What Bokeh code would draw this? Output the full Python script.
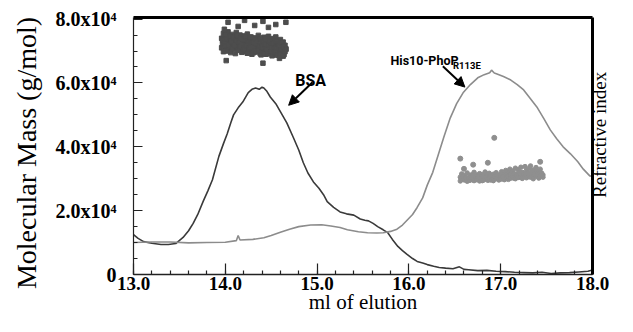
import math
from bokeh.plotting import figure
from bokeh.models import (Range1d, SingleIntervalTicker, FixedTicker, LinearAxis, Label,
                          Arrow, NormalHead, PrintfTickFormatter)
from bokeh.embed import file_html
from bokeh.resources import INLINE

# ---------------- data (mass axis units: x1e4 g/mol) ----------------
bsa_ri_x = [13.00, 13.05, 13.11, 13.20, 13.30, 13.38, 13.46, 13.54, 13.60, 13.65, 13.70, 13.76,
            13.81, 13.86, 13.93, 13.98, 14.02, 14.06, 14.09, 14.14, 14.19, 14.25, 14.29, 14.33,
            14.37, 14.40, 14.42, 14.45, 14.49, 14.55, 14.60, 14.67, 14.74, 14.80, 14.85, 14.90,
            14.96, 15.02, 15.07, 15.11, 15.18, 15.25, 15.32, 15.40, 15.47, 15.52, 15.56, 15.61,
            15.66, 15.72, 15.77, 15.82, 15.88, 15.93, 15.98, 16.04, 16.09, 16.15, 16.20, 16.27,
            16.33, 16.40, 16.48, 16.55, 16.60, 16.65, 16.75, 16.85, 16.95, 17.05, 17.15, 17.25,
            17.35, 17.45, 17.55, 17.65, 17.75, 17.85, 17.95, 18.00]
bsa_ri_y = [1.25, 1.13, 1.03, 0.98, 0.94, 0.94, 0.97, 1.16, 1.37, 1.60, 1.88, 2.30,
            2.62, 2.97, 3.70, 4.10, 4.40, 4.75, 5.00, 5.22, 5.40, 5.70, 5.80, 5.84,
            5.80, 5.87, 5.84, 5.75, 5.56, 5.35, 5.10, 4.75, 4.30, 3.90, 3.50, 3.18,
            2.90, 2.70, 2.50, 2.28, 2.10, 1.96, 1.90, 1.86, 1.74, 1.70, 1.68, 1.60,
            1.50, 1.40, 1.31, 1.10, 0.88, 0.75, 0.63, 0.50, 0.41, 0.36, 0.31, 0.26,
            0.22, 0.20, 0.18, 0.24, 0.16, 0.15, 0.12, 0.13, 0.10, 0.09, 0.07, 0.06,
            0.05, 0.07, 0.03, 0.05, 0.06, 0.08, 0.10, 0.14]

his_ri_x = [13.00, 13.20, 13.40, 13.60, 13.80, 14.00, 14.12, 14.14, 14.16, 14.30, 14.42, 14.50,
            14.60, 14.70, 14.80, 14.93, 15.05, 15.15, 15.25, 15.33, 15.45, 15.55, 15.65, 15.72,
            15.80, 15.87, 15.93, 15.98, 16.04, 16.09, 16.15, 16.20, 16.26, 16.32, 16.38, 16.45,
            16.52, 16.59, 16.67, 16.75, 16.82, 16.88, 16.90, 16.93, 16.96, 17.03, 17.11, 17.18,
            17.25, 17.32, 17.40, 17.47, 17.54, 17.61, 17.68, 17.76, 17.84, 17.90, 17.97, 18.00]
his_ri_y = [1.00, 1.02, 1.02, 0.99, 1.00, 1.01, 1.06, 1.22, 1.08, 1.10, 1.15, 1.22,
            1.32, 1.42, 1.50, 1.55, 1.56, 1.52, 1.47, 1.40, 1.34, 1.31, 1.30, 1.31,
            1.35, 1.42, 1.55, 1.70, 1.88, 2.10, 2.40, 2.80, 3.20, 3.75, 4.30, 4.90,
            5.35, 5.69, 5.95, 6.16, 6.26, 6.32, 6.40, 6.31, 6.28, 6.20, 6.09, 5.95,
            5.78, 5.52, 5.22, 4.88, 4.53, 4.25, 4.00, 3.78, 3.53, 3.30, 3.09, 3.08]

bsa_mw_x = [13.96, 13.97, 13.98, 13.99,
            14.00, 14.01, 14.02, 14.03, 14.04, 14.05, 14.06, 14.07, 14.08, 14.09,
            14.10, 14.11, 14.12, 14.13, 14.14, 14.15, 14.16, 14.17, 14.18, 14.19,
            14.20, 14.21, 14.22, 14.23, 14.24, 14.25, 14.26, 14.27, 14.28, 14.29,
            14.30, 14.31, 14.32, 14.33, 14.34, 14.35, 14.36, 14.37, 14.38, 14.39,
            14.40, 14.41, 14.42, 14.43, 14.44, 14.45, 14.46, 14.47, 14.48, 14.49,
            14.50, 14.51, 14.52, 14.53, 14.54, 14.55, 14.56, 14.57, 14.58, 14.59,
            14.60, 14.61, 14.62, 14.63, 14.64, 14.65, 14.66]
bsa_mw_a = [7.40, 7.22, 7.55, 7.05, 7.33, 7.48, 7.12, 7.60, 7.28, 7.02,
            7.45, 7.18, 7.52, 7.08, 7.36, 7.25, 7.58, 7.10, 7.42, 7.20,
            7.50, 7.04, 7.30, 7.47, 7.15, 7.38, 6.98, 7.26, 7.53, 7.11,
            7.35, 7.00, 7.44, 7.19, 7.29, 6.95, 7.41, 7.14, 7.32, 7.06,
            7.49, 7.17, 6.92, 7.37, 7.23, 7.03, 7.43, 7.13, 6.90, 7.34,
            7.21, 7.46, 6.97, 7.27, 7.09, 7.39, 6.88, 7.24, 7.16, 7.44,
            6.94, 7.31, 7.07, 6.86, 7.36, 7.12, 7.01, 7.28, 6.89, 7.18, 7.05]
bsa_mw_b = [7.10, 7.35, 6.98, 7.25, 7.50, 7.15, 7.38, 7.00, 7.20, 7.45,
            6.95, 7.30, 7.08, 7.42, 7.18, 6.92, 7.33, 7.48, 7.02, 7.27,
            7.14, 7.40, 6.96, 7.22, 7.36, 7.05, 7.46, 7.17, 6.93, 7.31,
            7.09, 7.43, 7.20, 6.90, 7.26, 7.12, 7.39, 6.97, 7.24, 7.34,
            7.01, 7.16, 7.37, 6.88, 7.11, 7.29, 6.94, 7.21, 7.40, 7.06,
            6.91, 7.19, 7.32, 6.99, 7.13, 6.85, 7.23, 7.08, 6.96, 7.30,
            7.10, 6.87, 7.22, 7.15, 6.93, 7.03, 7.26, 6.84, 7.14, 6.98, 7.07]
bsa_out_x = [14.01, 14.03, 14.14, 14.21, 14.32, 14.41, 14.47, 14.55, 14.59, 14.66, 14.41, 13.99]
bsa_out_y = [6.70, 7.90, 7.77, 7.96, 7.80, 7.93, 7.74, 7.83, 6.77, 7.90, 6.62, 7.68]

his_mw_x = [16.56, 16.575, 16.59, 16.605, 16.62, 16.635, 16.65, 16.665, 16.68, 16.695,
            16.71, 16.725, 16.74, 16.755, 16.77, 16.785, 16.80, 16.815, 16.83, 16.845,
            16.86, 16.875, 16.89, 16.905, 16.92, 16.935, 16.95, 16.965, 16.98, 16.995,
            17.01, 17.025, 17.04, 17.055, 17.07, 17.085, 17.10, 17.115, 17.13, 17.145,
            17.16, 17.175, 17.19, 17.205, 17.22, 17.235, 17.25, 17.265, 17.28, 17.295,
            17.31, 17.325, 17.34, 17.355, 17.37, 17.385, 17.40, 17.415, 17.43, 17.445, 17.46]
his_mw_a = [3.05, 3.15, 2.98, 3.10, 3.02, 3.18, 2.95, 3.08, 3.12, 2.97,
            3.20, 3.04, 3.11, 2.99, 3.16, 3.06, 2.94, 3.13, 3.21, 3.00,
            3.09, 3.17, 2.96, 3.07, 3.14, 3.01, 3.19, 3.05, 2.98, 3.12,
            3.22, 3.03, 3.15, 3.26, 3.00, 3.18, 3.30, 3.08, 3.24, 3.02,
            3.33, 3.14, 3.28, 3.05, 3.36, 3.20, 3.10, 3.38, 3.25, 3.06,
            3.32, 3.40, 3.15, 3.27, 3.09, 3.35, 3.22, 3.04, 3.30, 3.18, 3.12]
his_mw_b = [2.93, 3.00, 3.07, 2.96, 3.03, 2.92, 3.01, 2.95, 3.04, 3.09,
            2.94, 3.00, 2.97, 3.06, 2.93, 3.02, 3.08, 2.96, 3.01, 3.05,
            2.95, 3.03, 3.10, 2.98, 2.94, 3.06, 3.00, 3.12, 2.96, 3.04,
            2.99, 3.07, 2.97, 3.11, 3.05, 2.98, 3.13, 3.02, 3.08, 3.16,
            3.00, 3.10, 3.04, 3.20, 3.06, 3.01, 3.14, 3.08, 3.03, 3.18,
            3.11, 3.05, 3.22, 3.00, 3.16, 3.09, 3.13, 3.02, 3.07, 3.10, 3.05]
his_out_x = [16.56, 16.60, 16.70, 16.86, 16.93, 17.43]
his_out_y = [3.63, 3.31, 3.44, 3.50, 4.28, 3.53]

y_ticks = [0, 20000, 40000, 60000, 80000]
y_tick_labels = ["0", "2.0x10\u2074", "4.0x10\u2074", "6.0x10\u2074", "8.0x10\u2074"]

y_title = "Molecular Mass (g/mol)"
y2_title = "Refractive index"
x_title = "ml of elution"
bsa_name = "BSA"
his_name = "His10-PhoP"
his_sub = "R113E"

SCALE = 1e4
def sc(v):
    return [a * SCALE for a in v]

# ---------------- figure ----------------
p = figure(width=625, height=316, x_range=Range1d(13, 18), y_range=Range1d(0, 80500),
           output_backend="svg", toolbar_location=None,
           min_border_left=133, min_border_right=33, min_border_top=17, min_border_bottom=41,
           background_fill_color="white", border_fill_color="white")
p.outline_line_color = None
p.xgrid.visible = False
p.ygrid.visible = False

SERIF = "Liberation Serif"
BOLDSANS = "Roboto"

xa = p.xaxis[0]
xa.ticker = SingleIntervalTicker(interval=1, num_minor_ticks=5)
xa.formatter = PrintfTickFormatter(format="%.1f")
xa.major_tick_in = 11
xa.major_tick_out = 0
xa.minor_tick_in = 4
xa.minor_tick_out = 0
xa.major_label_standoff = 2
xa.major_label_text_font = SERIF
xa.major_label_text_font_style = "bold"
xa.major_label_text_font_size = "19px"
xa.major_label_text_color = "black"
xa.axis_line_width = 1.5
xa.axis_line_color = "#222222"
xa.major_tick_line_color = "#222222"
xa.minor_tick_line_color = "#222222"
xa.major_tick_line_width = 1.2
xa.minor_tick_line_width = 1.2
xa.axis_label = x_title
xa.axis_label_text_font = SERIF
xa.axis_label_text_font_style = "normal"
xa.axis_label_text_font_size = "21px"
xa.axis_label_text_color = "black"
xa.axis_label_standoff = -3

ya = p.yaxis[0]
ya.ticker = SingleIntervalTicker(interval=20000, num_minor_ticks=4)
ya.major_label_overrides = {t: s for t, s in zip(y_ticks, y_tick_labels)}
ya.major_tick_in = 9
ya.major_tick_out = 0
ya.minor_tick_in = 4
ya.minor_tick_out = 0
ya.major_label_standoff = 17
ya.major_label_text_font = SERIF
ya.major_label_text_font_style = "bold"
ya.major_label_text_font_size = "20px"
ya.major_label_text_color = "black"
ya.axis_line_width = 1.2
ya.axis_line_color = "#222222"
ya.major_tick_line_color = "#222222"
ya.minor_tick_line_color = "#222222"
ya.major_tick_line_width = 1.2
ya.minor_tick_line_width = 1.2
# trailing no-break spaces move the (centred) title down toward where the reference has it
ya.axis_label = y_title + "\u00a0" * 2
ya.axis_label_text_font = SERIF
ya.axis_label_text_font_style = "normal"
ya.axis_label_text_font_size = "28px"
ya.axis_label_text_color = "black"
ya.axis_label_standoff = 11

top = LinearAxis(ticker=FixedTicker(ticks=[]), axis_line_width=3, axis_line_color="black",
                 major_label_standoff=0, major_tick_out=0, major_tick_in=0,
                 minor_tick_out=0, minor_tick_in=0, major_label_text_font_size="0px")
p.add_layout(top, "above")

# right-hand title drawn as the single (bottom-to-top) tick label of the right axis
right_title_pos = 24000
right = LinearAxis(ticker=FixedTicker(ticks=[right_title_pos]),
                   major_label_overrides={right_title_pos: y2_title},
                   major_label_orientation=math.pi / 2,
                   major_label_text_font=SERIF, major_label_text_font_style="normal",
                   major_label_text_font_size="19px", major_label_text_color="black",
                   major_label_standoff=7,
                   axis_line_width=3, axis_line_color="black",
                   major_tick_line_color=None, minor_tick_line_color=None,
                   major_tick_out=0, major_tick_in=0, minor_tick_out=0, minor_tick_in=0)
p.add_layout(right, "right")

# ---------------- curves ----------------
p.line(bsa_ri_x, sc(bsa_ri_y), line_color="#3a3a3a", line_width=1.6)
p.line(his_ri_x, sc(his_ri_y), line_color="#8c8c8c", line_width=1.6)

p.scatter(bsa_mw_x, sc(bsa_mw_a), marker="square", size=4.5, color="#4d4d4d")
p.scatter(bsa_mw_x, sc(bsa_mw_b), marker="square", size=4.5, color="#4d4d4d")
p.scatter(bsa_out_x, sc(bsa_out_y), marker="square", size=4.5, color="#4d4d4d")

p.scatter(his_mw_x, sc(his_mw_a), marker="circle", size=4.5, color="#8f8f8f")
p.scatter(his_mw_x, sc(his_mw_b), marker="circle", size=4.5, color="#8f8f8f")
p.scatter(his_out_x, sc(his_out_y), marker="circle", size=5, color="#8f8f8f")

# ---------------- annotations ----------------
p.add_layout(Arrow(end=NormalHead(size=10, fill_color="black", line_color="black"),
                   x_start=14.95, y_start=60200, x_end=14.69, y_end=53000,
                   line_width=2, line_color="black"))
p.add_layout(Arrow(end=NormalHead(size=10, fill_color="black", line_color="black"),
                   x_start=16.37, y_start=65200, x_end=16.61, y_end=58700,
                   line_width=2, line_color="black"))

p.add_layout(Label(x=14.93, y=60800, text=bsa_name, text_font=BOLDSANS, text_font_style="bold",
                   text_font_size="16px", text_align="center", text_baseline="alphabetic",
                   text_color="black"))
p.add_layout(Label(x=15.80, y=67100, text=his_name, text_font=BOLDSANS, text_font_style="bold",
                   text_font_size="12.5px", text_align="left", text_baseline="alphabetic",
                   text_color="black"))
p.add_layout(Label(x=16.48, y=65500, text=his_sub, text_font=BOLDSANS, text_font_style="bold",
                   text_font_size="9.5px", text_align="left", text_baseline="alphabetic",
                   text_color="black"))

open("out.html", "w").write(file_html(p, INLINE))
